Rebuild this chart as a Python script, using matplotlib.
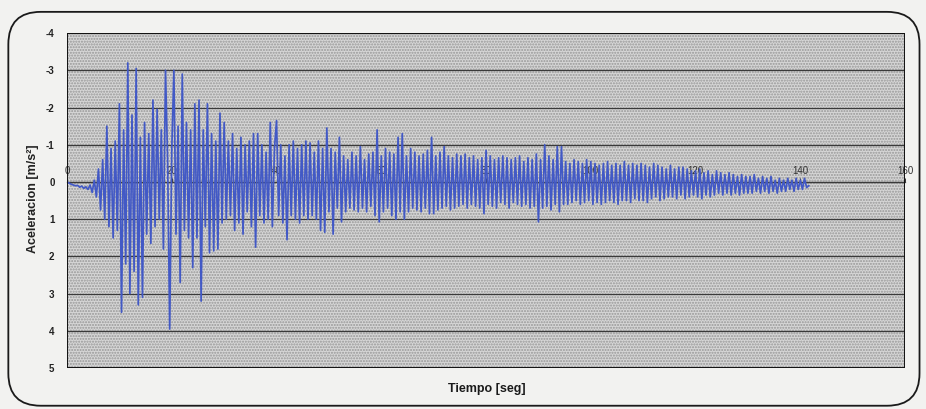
import numpy as np
import matplotlib
matplotlib.use("Agg")
import matplotlib.pyplot as plt
from matplotlib.patches import FancyBboxPatch, Rectangle

# accelerogram, one sample every DT seconds
DT = 0.4
ACC = [
    # 0 - 10 s
    0.00, 0.03, 0.06, 0.08, 0.10, 0.09, 0.14, 0.11, 0.17, 0.13, 0.20, 0.08, 0.28,
    -0.05, 0.40, -0.35, 0.75, -0.60, 1.00, -1.50, 1.20, -0.90, 1.50, -1.10, 1.30,
    # 10 - 20 s
    -2.10, 3.50, -1.40, 2.20, -3.20, 3.00, -1.80, 2.40, -3.05, 3.30, -1.20, 3.10, -1.60,
    1.40, -1.30, 1.65, -2.20, 1.20, -1.95, 1.00, -1.40, 1.80, -3.00, -0.60, 3.95,
    # 20 - 30 s
    -0.90, -3.00, 1.40, -1.50, 2.70, -2.90, 1.30, -1.60, 1.50, -1.40, 2.30, -2.10, 1.50,
    -2.20, 3.20, -1.40, 1.20, -2.10, 1.90, -1.30, 1.85, -1.10, 1.80, -1.85, 1.10,
    # 30 - 40 s
    -1.60, 1.00, -1.10, 0.90, -1.30, 1.30, -0.90, 1.10, -1.20, 1.40, -1.00, 0.80, -1.10,
    1.20, -1.30, 1.75, -1.30, 0.90, -1.00, 1.10, -0.80, 1.00, -1.60, 1.20, -0.90,
    # 40 - 50 s
    -1.65, 0.90, -1.00, 1.10, -0.70, 1.55, -1.00, 0.90, -1.10, 1.00, -0.90, 1.10, -1.00,
    0.90, -1.10, 1.00, -1.05, 0.90, -0.80, 1.00, -1.10, 1.30, -0.90, 1.35, -1.45,
    # 50 - 60 s
    0.80, -0.90, 1.40, -0.80, 0.70, -1.20, 1.07, -0.70, 0.80, -0.60, 0.70, -0.80, 0.75,
    -0.70, 0.80, -0.95, 0.70, -0.60, 0.80, -0.75, 0.65, -0.80, 0.90, -1.40, 1.07,
    # 60 - 70 s
    -0.70, 0.80, -0.90, 0.70, -0.80, 0.90, -0.75, 1.00, -1.20, 0.80, -1.30, 1.00, -0.70,
    0.80, -0.90, 0.70, -0.80, 0.75, -0.70, 0.80, -0.75, 0.70, -0.85, 0.85, -1.20,
    # 70 - 80 s
    0.85, -0.70, 0.75, -0.80, 0.70, -0.95, 0.65, -0.70, 0.75, -0.65, 0.70, -0.75, 0.65,
    -0.70, 0.60, -0.75, 0.70, -0.65, 0.60, -0.70, 0.65, -0.60, 0.70, -0.65, 0.85,
    # 80 - 90 s
    -0.85, 0.60, -0.70, 0.65, -0.60, 0.70, -0.65, 0.55, -0.70, 0.60, -0.65, 0.70, -0.60,
    0.55, -0.65, 0.60, -0.70, 0.65, -0.55, 0.60, -0.65, 0.70, -0.60, 0.65, -0.75,
    # 90 - 100 s
    1.07, -0.60, 0.70, -1.00, 0.65, -0.70, 0.75, -0.60, 0.60, -0.95, 0.80, -0.95, 0.60,
    -0.55, 0.60, -0.50, 0.55, -0.60, 0.50, -0.55, 0.60, -0.50, 0.55, -0.60, 0.50,
    # 100 - 110 s
    -0.55, 0.60, -0.50, 0.55, -0.45, 0.60, -0.50, 0.55, -0.55, 0.50, -0.45, 0.55, -0.50,
    0.60, -0.45, 0.50, -0.55, 0.50, -0.45, 0.55, -0.50, 0.45, -0.45, 0.50, -0.50,
    # 110 - 120 s
    0.50, -0.45, 0.55, -0.40, 0.45, -0.50, 0.40, -0.45, 0.50, -0.40, 0.45, -0.35, 0.40,
    -0.45, 0.40, -0.35, 0.45, -0.40, 0.35, -0.40, 0.45, -0.35, 0.40, -0.30, 0.35,
    # 120 - 130 s
    -0.30, 0.40, -0.35, 0.45, -0.25, 0.35, -0.30, 0.40, -0.20, 0.35, -0.30, 0.30, -0.25,
    0.35, -0.20, 0.30, -0.25, 0.35, -0.20, 0.30, -0.15, 0.35, -0.20, 0.30, -0.15,
    # 130 - 140 s
    0.30, -0.15, 0.30, -0.20, 0.25, -0.10, 0.30, -0.15, 0.25, -0.10, 0.30, -0.15, 0.25,
    -0.05, 0.30, -0.10, 0.25, -0.05, 0.25, -0.10, 0.20, -0.05, 0.25, -0.10, 0.20,
    # 140 s ->
    -0.05, 0.20, -0.10, 0.15, 0.10,
]

X_TICKS = [0, 20, 40, 60, 80, 100, 120, 140, 160]
Y_TICKS = [-4, -3, -2, -1, 0, 1, 2, 3, 4, 5]

LINE_COLOR = "#4259c6"
FONT = "Liberation Sans"


def make_plot():
    t = np.arange(len(ACC)) * DT

    fig = plt.figure(figsize=(9.26, 4.09), dpi=100)
    fig.patch.set_facecolor("#f2f2f0")

    # rounded frame around the whole chart
    frame = FancyBboxPatch((0.009, 0.008), 0.984, 0.963,
                           boxstyle="round,pad=0,rounding_size=0.035",
                           transform=fig.transFigure, fill=False,
                           edgecolor="#1a1a1a", linewidth=1.3,
                           mutation_aspect=926 / 409)
    fig.patches.append(frame)

    plt.rcParams["hatch.linewidth"] = 1.0
    ax = fig.add_axes([0.0724, 0.100, 0.905, 0.819])
    ax.set_facecolor("#d6d6d6")
    ax.add_patch(Rectangle((0, 0), 1, 1, transform=ax.transAxes,
                           facecolor="none", edgecolor="#979797",
                           hatch="......", linewidth=0, zorder=0))

    ax.set_xlim(0, 160)
    ax.set_ylim(5, -4)

    for yv in Y_TICKS:
        ax.axhline(yv, color="#3a3a3a", linewidth=0.9, zorder=1)

    ax.plot(t, ACC, color=LINE_COLOR, linewidth=1.25, zorder=3)

    # x axis crossing at zero, labels above the line
    ax.spines["top"].set_position(("data", 0))
    ax.spines["top"].set_linewidth(0.9)
    ax.spines["top"].set_color("#3a3a3a")
    ax.xaxis.set_ticks_position("top")
    ax.set_xticks(X_TICKS)
    ax.tick_params(axis="x", direction="out", length=3, width=0.7,
                   labelsize=7, pad=1, colors="#333333")
    for lab in ax.get_xticklabels():
        lab.set_fontfamily(FONT)

    ax.add_patch(Rectangle((0, 0), 1, 1, transform=ax.transAxes, fill=False,
                           edgecolor="#111111", linewidth=1.4, zorder=5))
    ax.spines["bottom"].set_visible(False)
    ax.spines["left"].set_visible(False)
    ax.spines["right"].set_visible(False)

    ax.set_yticks(Y_TICKS)
    ax.set_yticklabels([str(v) for v in Y_TICKS], fontsize=7,
                       fontweight="bold", fontfamily=FONT)
    ax.tick_params(axis="y", length=0, pad=9, colors="#222222")

    fig.text(0.036, 0.515, "Aceleracion [m/s²]", rotation=90, ha="center",
             va="center", fontsize=9, fontweight="bold", fontfamily=FONT,
             color="#222222")
    fig.text(0.526, 0.049, "Tiempo [seg]", ha="center", va="center",
             fontsize=9, fontweight="bold", fontfamily=FONT, color="#1a1a1a")

    fig.savefig("out.png", dpi=100, facecolor=fig.get_facecolor())
    plt.close(fig)


if __name__ == "__main__":
    make_plot()
